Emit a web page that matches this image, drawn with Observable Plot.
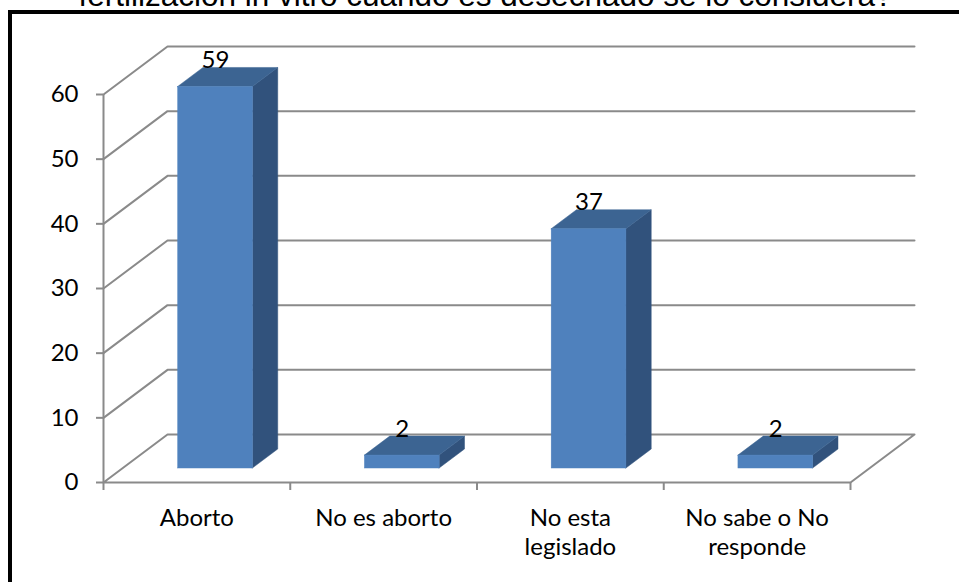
<!DOCTYPE html>
<html>
<head>
<meta charset="utf-8">
<script src="https://cdn.jsdelivr.net/npm/d3@7"></script>
<script src="https://cdn.jsdelivr.net/npm/@observablehq/plot@0.6"></script>
<style>
  html, body { margin: 0; padding: 0; background: #fff; overflow: hidden; width: 959px; height: 582px; }
  #title { position: absolute; left: 6px; width: 959px; top: -20px; text-align: center; white-space: nowrap;
           font-family: "Liberation Sans", Arial, sans-serif; font-size: 31.5px; line-height: 31.5px; color: #000; }
  #chart { position: absolute; left: 0; top: 0; }
  #frame { position: absolute; left: 8px; top: 10px; width: 1200px; height: 1200px; border: 4px solid #000; pointer-events: none; }
</style>
</head>
<body>
<div id="title"></div>
<div id="chart"></div>
<div id="frame"></div>
<script>
// ---- data ----
const titleText = "fertilización in vitro cuando es desechado se lo considera?";
const categories = ["Aborto", "No es aborto", "No esta\nlegislado", "No sabe o No\nresponde"];
const values = [59, 2, 37, 2];
const yTicks = [0, 10, 20, 30, 40, 50, 60];

document.getElementById("title").textContent = titleText;

// ---- layout / projection ----
const W = 959, H = 582;
const mL = 103, mR = 109, mT = 94, mB = 100;
const n = categories.length;
const yMax = d3.max(yTicks);
const kx = (W - mL - mR) / n;          // px per category unit
const ky = (H - mT - mB) / yMax;       // px per value unit
const DX = 64 / kx;                    // full depth, x data units
const DY = 48 / ky;                    // full depth, y data units
const dFront = 14 / 48, dBack = 33 / 48;
const barW = 0.4;
const fs = 24;

const gridColor = "#8a8a8a";
const frontColor = "#4f81bd", topColor = "#3c6492", sideColor = "#31527c";

// back wall + floor grid paths
const P = (x, y, d) => ({x: x + d * DX, y: y + d * DY});
const grid = yTicks.flatMap(t => {
  const pts = t === 0
    ? [P(0, 0, 0), P(0, 0, 1), P(n, 0, 1), P(n, 0, 0), P(0, 0, 0)]
    : [P(0, t, 0), P(0, t, 1), P(n, t, 1)];
  return pts.map(p => ({...p, g: t}));
});

const bars = values.map((v, i) => ({v, i, xl: i + 0.5 - barW / 2, xr: i + 0.5 + barW / 2}));
const sideFaces = bars.flatMap(b => [dFront, dBack].map(d => ({i: b.i, x: b.xr + d * DX, y1: d * DY, y2: b.v + d * DY})));
const topFaces = bars.flatMap(b => [dFront, dBack].map(d => ({i: b.i, y: b.v + d * DY, x1: b.xl + d * DX, x2: b.xr + d * DX})));

const chart = Plot.plot({
  width: W, height: H,
  marginLeft: mL, marginRight: mR, marginTop: mT, marginBottom: mB,
  style: {fontFamily: "Lato, 'Open Sans', sans-serif", background: "transparent"},
  x: {type: "linear", domain: [0, n], axis: null},
  y: {type: "linear", domain: [0, yMax], axis: null},
  marks: [
    Plot.line(grid, {x: "x", y: "y", z: "g", stroke: gridColor, strokeWidth: 2}),
    Plot.ruleX([0], {y1: 0, y2: yMax, stroke: gridColor, strokeWidth: 2}),
    Plot.axisY({ticks: yTicks, tickSize: 7, tickPadding: 18, fontSize: fs, stroke: gridColor, strokeWidth: 2, fill: "#000", label: null}),
    Plot.axisX({ticks: d3.range(n + 1), tickSize: 8, tickFormat: () => "", stroke: gridColor, strokeWidth: 2, label: null}),
    // bars: side, top, front
    Plot.areaY(sideFaces, {x: "x", y1: "y1", y2: "y2", z: "i", fill: sideColor, stroke: sideColor, strokeWidth: 0.5}),
    Plot.areaX(topFaces, {y: "y", x1: "x1", x2: "x2", z: "i", fill: topColor, stroke: topColor, strokeWidth: 0.5}),
    Plot.rect(bars, {x1: d => d.xl + dFront * DX, x2: d => d.xr + dFront * DX,
                     y1: dFront * DY, y2: d => d.v + dFront * DY, fill: frontColor, stroke: frontColor, strokeWidth: 0.5}),
    // value labels
    Plot.text(bars, {x: d => d.i + 0.5 + dFront * DX, y: d => d.v + dBack * DY, text: d => String(d.v),
                     lineAnchor: "bottom", fontSize: fs, fill: "#000"}),
    // category labels
    Plot.text(categories, {x: (d, i) => i + 0.5, y: 0, text: d => d, lineAnchor: "top",
                           lineHeight: 1.25, dy: 21.7, fontSize: fs, fill: "#000"})
  ]
});
document.getElementById("chart").appendChild(chart);
</script>
</body>
</html>
